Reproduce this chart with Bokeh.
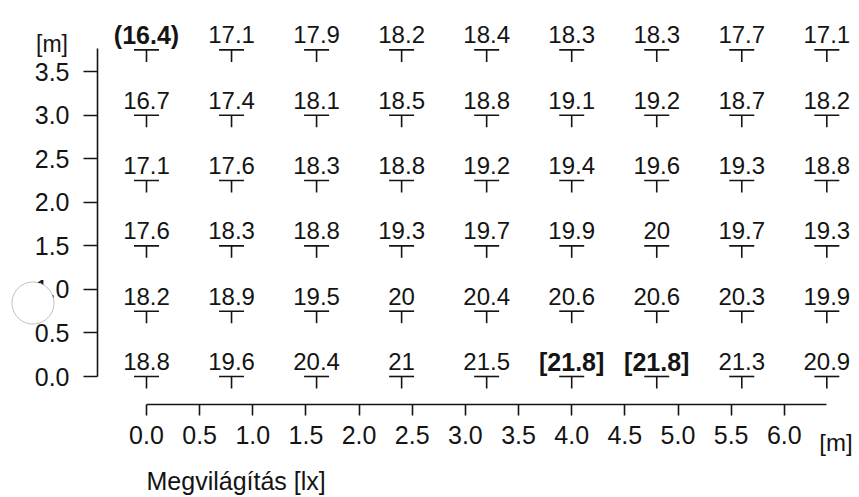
import math
from bokeh.plotting import figure
from bokeh.models import (Range1d, SingleIntervalTicker, NumeralTickFormatter,
                          Label, PolyAnnotation, ColumnDataSource)
from bokeh.core.properties import value
from bokeh.embed import file_html
from bokeh.resources import INLINE

# ---- data -------------------------------------------------------------
x_pos = [0.0, 0.8, 1.6, 2.4, 3.2, 4.0, 4.8, 5.6, 6.4]
y_pos = [3.75, 3.0, 2.25, 1.5, 0.75, 0.0]
row_375 = [16.4, 17.1, 17.9, 18.2, 18.4, 18.3, 18.3, 17.7, 17.1]
row_300 = [16.7, 17.4, 18.1, 18.5, 18.8, 19.1, 19.2, 18.7, 18.2]
row_225 = [17.1, 17.6, 18.3, 18.8, 19.2, 19.4, 19.6, 19.3, 18.8]
row_150 = [17.6, 18.3, 18.8, 19.3, 19.7, 19.9, 20.0, 19.7, 19.3]
row_075 = [18.2, 18.9, 19.5, 20.0, 20.4, 20.6, 20.6, 20.3, 19.9]
row_000 = [18.8, 19.6, 20.4, 21.0, 21.5, 21.8, 21.8, 21.3, 20.9]
rows = [row_375, row_300, row_225, row_150, row_075, row_000]
x_label = "Megvilágítás [lx]"
unit_label = "[m]"

# ---- geometry (frame fills the whole canvas) --------------------------
FW, FH = 858, 496
PXX, PXY = 106.3, 87.1          # pixels per metre on x and y
OX, OY = 146, 376               # pixel position of the (0, 0) point
XR = (-OX / PXX, (FW - OX) / PXX)
YR = ((OY - FH) / PXY, OY / PXY)
FONT = "Liberation Sans"
INK = "#141414"

p = figure(frame_width=FW, frame_height=FH,
           min_border_left=0, min_border_right=0, min_border_top=0,
           min_border_bottom=0,
           x_range=Range1d(*XR), y_range=Range1d(*YR),
           output_backend="svg", toolbar_location=None,
           background_fill_color="white", border_fill_color="white")
p.outline_line_color = None
p.xgrid.visible = False
p.ygrid.visible = False

vmin = min(min(r) for r in rows)
vmax = max(max(r) for r in rows)

xs, ys, txt, bold = [], [], [], []
for yv, row in zip(y_pos, rows):
    for xv, v in zip(x_pos, row):
        s = f"{v:g}"
        if v == vmin:
            s = f"({s})"
        elif v == vmax:
            s = f"[{s}]"
        xs.append(xv); ys.append(yv); txt.append(s)
        bold.append(v in (vmin, vmax))

hw = 12.5 / PXX
sl = 12.0 / PXY
p.segment(x0=[x - hw for x in xs], x1=[x + hw for x in xs], y0=ys, y1=ys,
          line_color=INK, line_width=1.6)
p.segment(x0=xs, x1=xs, y0=ys, y1=[y - sl for y in ys],
          line_color=INK, line_width=1.6)

norm = ColumnDataSource(dict(x=[a for a, b in zip(xs, bold) if not b],
                             y=[a for a, b in zip(ys, bold) if not b],
                             t=[a for a, b in zip(txt, bold) if not b]))
bsrc = ColumnDataSource(dict(x=[a for a, b in zip(xs, bold) if b],
                             y=[a for a, b in zip(ys, bold) if b],
                             t=[a for a, b in zip(txt, bold) if b]))
for src, style, size in ((norm, "normal", "24px"), (bsrc, "bold", "25px")):
    p.text(x="x", y="y", text="t", source=src, text_align="center",
           text_baseline="alphabetic", y_offset=-15,
           text_font=value(FONT), text_font_size=size,
           text_font_style=style, text_color=INK)

# ---- axes (drawn at fixed positions inside the frame) -----------------
for ax in (p.xaxis[0], p.yaxis[0]):
    ax.ticker = SingleIntervalTicker(interval=0.5, num_minor_ticks=0)
    ax.formatter = NumeralTickFormatter(format="0.0")
    ax.axis_line_color = INK
    ax.axis_line_width = 1.6
    ax.major_tick_line_color = INK
    ax.major_tick_line_width = 1.6
    ax.minor_tick_line_color = None
    ax.major_tick_in = 0
    ax.major_label_text_font = FONT
    ax.major_label_text_color = INK

p.xaxis.fixed_location = (OY - 404) / PXY
p.yaxis.fixed_location = (97 - OX) / PXX
p.xaxis.bounds = (min(x_pos), max(x_pos))
p.yaxis.bounds = (min(y_pos), max(y_pos) + 0.02)
p.xaxis.major_tick_out = 11
p.xaxis.major_label_standoff = 10
p.xaxis.major_label_text_font_size = "25px"
p.yaxis.major_tick_out = 14
p.yaxis.major_label_standoff = 14
p.yaxis.major_label_text_font_size = "25px"

# unit / axis labels
p.add_layout(Label(x=(51.5 - OX) / PXX, y=(OY - 43) / PXY, text=unit_label,
                   text_align="center", text_baseline="alphabetic",
                   text_font=FONT, text_font_size="23px", text_color=INK))
p.add_layout(Label(x=(835.5 - OX) / PXX, y=(OY - 442) / PXY, text=unit_label,
                   text_align="center", text_baseline="alphabetic",
                   text_font=FONT, text_font_size="24px", text_color=INK))
p.add_layout(Label(x=min(x_pos), y=(OY - 480) / PXY, text=x_label,
                   text_align="left", text_baseline="alphabetic",
                   text_font=FONT, text_font_size="25px", text_color=INK))

# hand-drawn circle on the scan (covers part of the "1.0" tick label)
cx, cy = (32.5 - OX) / PXX, (OY - 302.5) / PXY
rx, ry = 21 / PXX, 21 / PXY
ang = [2 * math.pi * i / 48 for i in range(48)]
p.add_layout(PolyAnnotation(xs=[cx + rx * math.cos(a) for a in ang],
                            ys=[cy + ry * math.sin(a) for a in ang],
                            fill_color="white", fill_alpha=1.0,
                            line_color="#333333", line_width=1.0))

open("out.html", "w").write(file_html(p, INLINE))
